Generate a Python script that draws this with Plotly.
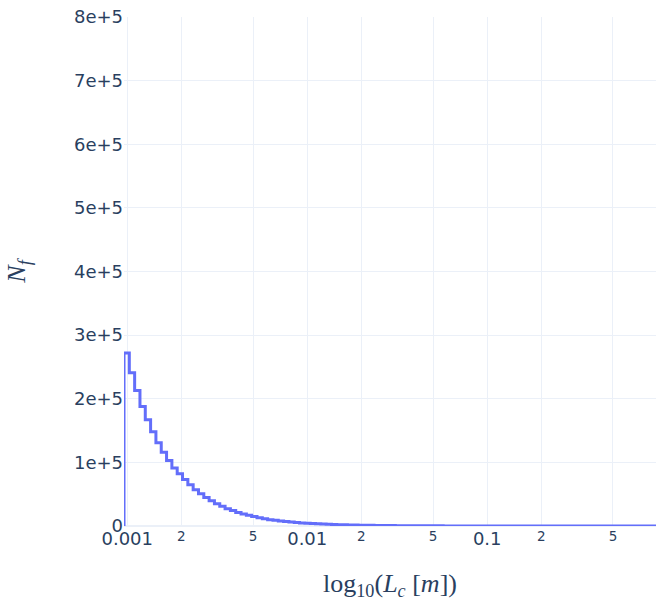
import numpy as np
import plotly.graph_objects as go

# Histogram of characteristic length L_c (log-spaced bins)
log_bin_start = -3.018     # log10 of first bin edge
log_bin_width = 0.02956    # bin width in decades
counts = [
    272000, 241000, 213000, 188000, 167000, 148000, 131000, 116000, 103000, 91000,
    82000, 73000, 65000, 57000, 50500, 44700, 39500, 35000, 30900, 27300,
    24200, 21400, 18900, 16700, 14800, 13100, 11400, 10000, 8900, 7900,
    7000, 6200, 5450, 4830, 4270, 3780, 3340, 2960, 2620, 2320,
    2050, 1820, 1610, 1420, 1260, 1110, 985, 870, 770, 683,
    604, 535, 473, 419, 371, 328, 290, 257, 227, 201,
    178, 157, 139, 123, 109, 96, 85, 75, 67, 59,
    52, 46, 41, 36, 32, 28, 25, 22, 19, 17,
    15, 13, 12, 10, 9, 8, 7, 6, 5, 5,
    4, 4, 3, 3, 2, 2, 2, 1, 1, 1,
]
y_range = [0, 800000]
y_dtick = 100000

n = len(counts)
edges = 10 ** (log_bin_start + log_bin_width * np.arange(n + 1))

xs = [edges[0]] + list(edges[:n]) + [edges[n]]
ys = [0] + counts + [counts[-1]]

fig = go.Figure(
    go.Scatter(
        x=xs, y=ys, mode="lines",
        line=dict(shape="hv", color="#636efa", width=3),
        showlegend=False,
    )
)

fig.update_layout(
    template="plotly_white",
    width=656, height=605,
    margin=dict(l=124, r=0, t=17, b=79),
    font=dict(family="DejaVu Sans, Verdana, sans-serif", size=18, color="#2a3f5f"),
)
fig.update_xaxes(
    type="log",
    range=[log_bin_start, log_bin_start + log_bin_width * n],
    dtick="D2",
    title=dict(
        text="log<sub>10</sub>(<i>L<sub>c</sub></i> [<i>m</i>])",
        font=dict(family="Liberation Serif, serif", size=26),
        standoff=25,
    ),
    automargin=False,
)
fig.update_yaxes(
    range=y_range,
    dtick=y_dtick,
    exponentformat="e",
    ticklabeloverflow="allow",
    title=dict(
        text="<i>N<sub>f</sub></i>",
        font=dict(family="Liberation Serif, serif", size=26),
        standoff=40,
    ),
    automargin=False,
)

fig.write_html(
    "out.html",
    config={"displayModeBar": False},
    post_script="document.body.style.margin='0';document.body.style.overflow='hidden';",
)
